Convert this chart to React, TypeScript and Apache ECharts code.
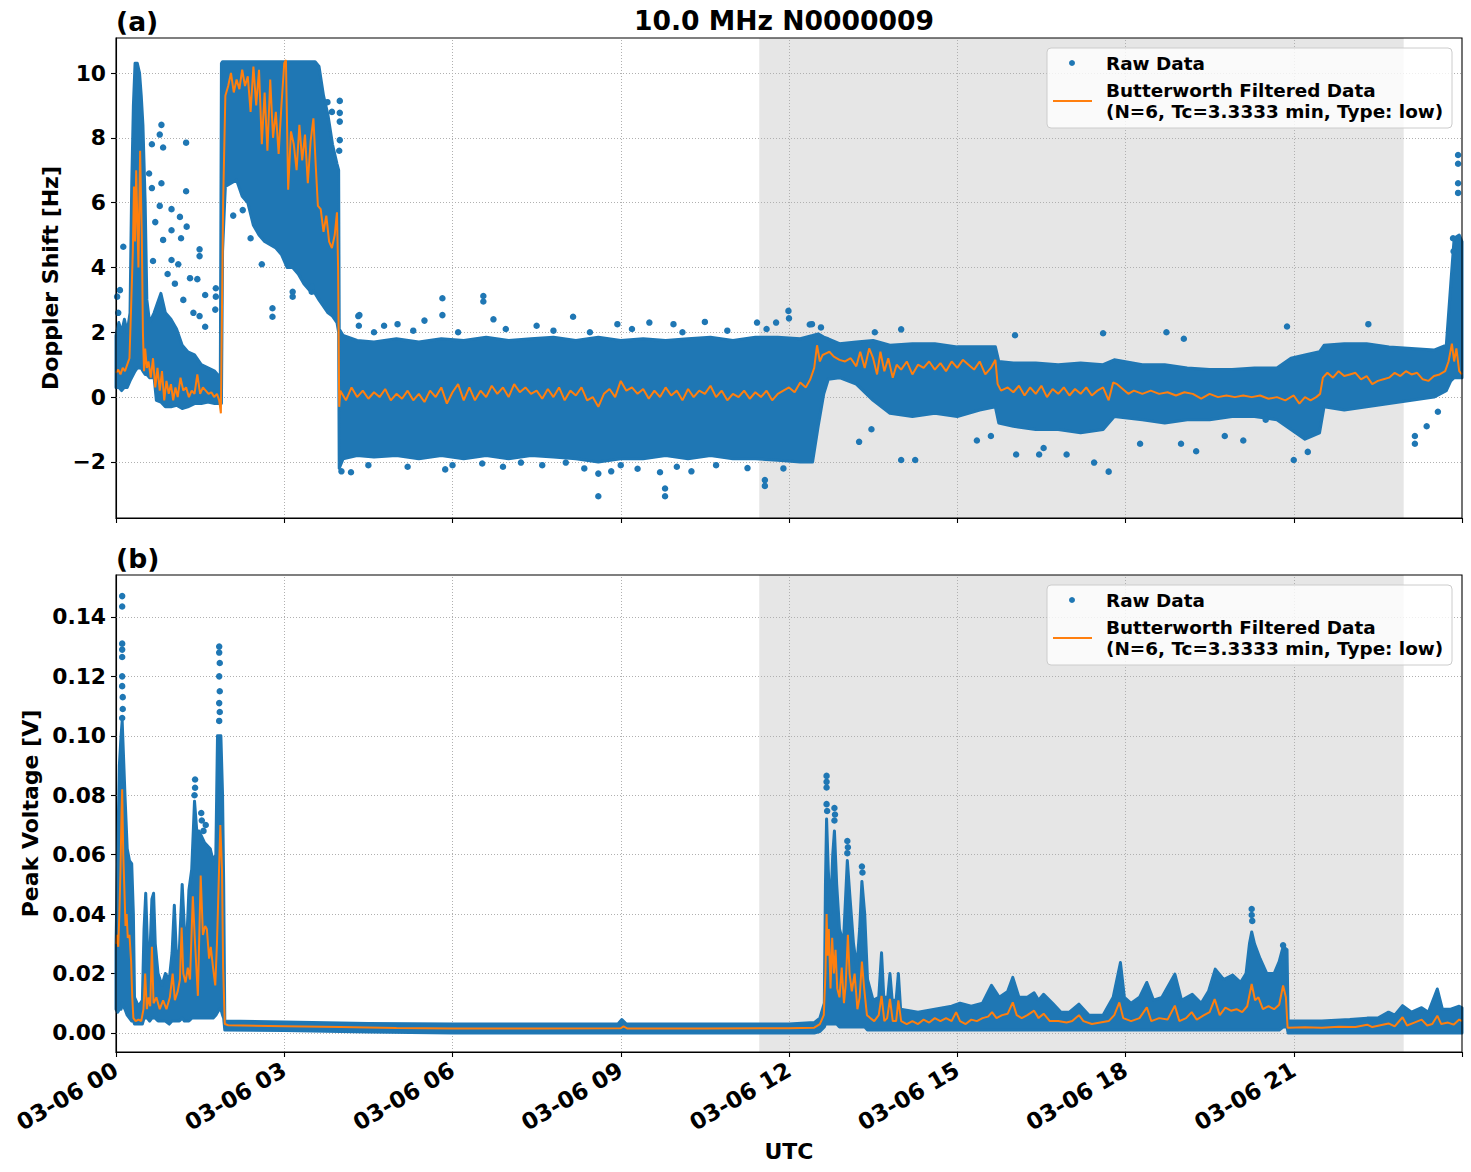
import React, { useEffect, useRef } from "react";
import * as echarts from "echarts";

const BLUE = "#1f77b4";
const ORANGE = "#ff7f0e";
const FONT = "DejaVu Sans";

// x axis: hours of 2025-03-06 (UTC)
const xTicks = [0, 3, 6, 9, 12, 15, 18, 21];
const shadeStart = 11.47;
const shadeEnd = 22.96;

// ---------- panel (a): Doppler shift [Hz] ----------
const dopplerTicks = [-2, 0, 2, 4, 6, 8, 10];
// dense raw-data cloud: [hour, low, high]
const dopplerBand = [
  [0.0, 0.3, 1.9], [0.05, 0.3, 2.3], [0.1, 0.2, 2.0], [0.15, 0.3, 2.4], [0.2, 0.3, 2.0], [0.25, 0.5, 2.6],
  [0.28, 0.6, 6.5], [0.31, 0.7, 9.0], [0.34, 0.8, 10.3], [0.38, 0.9, 10.3], [0.42, 0.9, 10.0], [0.45, 0.9, 9.3],
  [0.48, 0.8, 8.4], [0.52, 0.7, 6.0], [0.55, 0.7, 3.0], [0.6, 0.6, 2.3], [0.68, 0.6, 2.6], [0.72, -0.1, 2.8],
  [0.8, -0.15, 3.2], [0.88, -0.3, 2.6], [0.98, -0.3, 2.4], [1.08, -0.25, 2.1], [1.18, -0.35, 1.6], [1.28, -0.3, 1.4],
  [1.4, -0.2, 1.3], [1.52, -0.2, 1.0], [1.64, -0.15, 0.9], [1.76, -0.2, 0.8], [1.86, -0.2, 0.6], [1.88, -0.2, 10.3],
  [1.9, 4.5, 10.35], [1.95, 6.5, 10.35], [2.05, 6.6, 10.35], [2.15, 6.7, 10.35], [2.25, 6.2, 10.35], [2.35, 6.0, 10.35],
  [2.45, 5.3, 10.35], [2.55, 5.0, 10.35], [2.65, 4.8, 10.35], [2.75, 4.7, 10.35], [2.85, 4.6, 10.35], [2.95, 4.4, 10.35],
  [3.05, 4.0, 10.35], [3.15, 4.0, 10.35], [3.25, 3.8, 10.35], [3.35, 3.5, 10.35], [3.45, 3.3, 10.35], [3.55, 3.2, 10.35],
  [3.62, 3.0, 10.2], [3.7, 2.8, 9.3], [3.78, 2.6, 8.7], [3.86, 2.5, 7.8], [3.94, 2.3, 7.2], [3.97, 2.0, 7.0],
  [3.98, -2.2, 2.1], [4.05, -1.9, 1.9], [4.3, -1.8, 1.75], [4.6, -1.85, 1.7], [5.0, -1.8, 1.8], [5.4, -1.9, 1.7],
  [5.8, -1.8, 1.8], [6.2, -1.9, 1.75], [6.6, -1.8, 1.85], [7.0, -1.9, 1.75], [7.4, -1.8, 1.8], [7.8, -1.85, 1.85],
  [8.2, -1.9, 1.75], [8.6, -2.0, 1.85], [9.0, -1.9, 1.75], [9.4, -1.9, 1.8], [9.8, -1.8, 1.75], [10.2, -1.9, 1.8],
  [10.6, -1.8, 1.85], [11.0, -1.9, 1.75], [11.4, -1.9, 1.85], [11.8, -1.95, 1.85], [12.2, -2.0, 1.8], [12.42, -2.0, 1.9],
  [12.52, -0.9, 1.95], [12.62, 0.1, 1.85], [12.7, 0.55, 1.8], [12.9, 0.6, 1.65], [13.2, 0.4, 1.7], [13.5, -0.1, 1.75],
  [13.8, -0.5, 1.6], [14.2, -0.6, 1.65], [14.6, -0.5, 1.65], [15.0, -0.6, 1.55], [15.4, -0.4, 1.55], [15.68, -0.3, 1.55],
  [15.74, -0.8, 1.1], [16.0, -0.9, 1.05], [16.4, -1.0, 1.05], [16.8, -1.0, 1.0], [17.2, -1.1, 1.05], [17.6, -1.0, 1.0],
  [17.8, -0.6, 1.15], [18.3, -0.7, 1.0], [18.7, -0.8, 1.0], [19.1, -0.7, 0.9], [19.5, -0.7, 0.85], [19.9, -0.6, 0.85],
  [20.3, -0.6, 0.9], [20.7, -0.7, 0.9], [20.95, -1.0, 1.2], [21.2, -1.3, 1.3], [21.46, -1.1, 1.4], [21.54, -0.3, 1.6],
  [21.9, -0.4, 1.65], [22.3, -0.3, 1.65], [22.7, -0.2, 1.55], [23.1, -0.1, 1.5], [23.5, 0.0, 1.45], [23.72, 0.2, 1.6],
  [23.8, 0.5, 3.5], [23.86, 0.6, 4.9], [23.95, 0.6, 5.0], [24.0, 0.6, 4.8],
];
// isolated raw points: [hour, Hz]
const dopplerOutliers = [
  [0.13, 4.64], [0.07, 3.3], [0.04, 2.6], [0.02, 3.1], [0.81, 8.4], [0.78, 8.1], [0.64, 7.8], [1.25, 7.85],
  [0.84, 7.7], [0.59, 6.9], [0.64, 6.45], [1.25, 6.35], [0.81, 6.6], [0.78, 5.9], [0.99, 5.8], [1.14, 5.56],
  [0.99, 5.15], [1.16, 4.9], [1.26, 5.26], [1.49, 4.56], [1.49, 4.35], [0.84, 4.85], [0.99, 4.23], [1.32, 3.67],
  [1.45, 3.64], [1.11, 4.1], [1.59, 3.15], [1.78, 3.1], [1.78, 3.36], [1.77, 2.7], [1.49, 2.5], [1.59, 2.17],
  [0.92, 3.8], [1.05, 3.5], [1.2, 3.0], [1.38, 2.6], [0.7, 5.4], [0.66, 4.2],
  [3.99, 9.14], [3.99, 8.77], [3.99, 8.5], [3.99, 7.93], [3.98, 7.6], [3.77, 9.1], [3.85, 8.8], [2.79, 2.74],
  [2.79, 2.48], [3.15, 3.25], [3.15, 3.1], [3.49, 3.25], [3.49, 3.4], [2.09, 5.6], [2.26, 5.77], [2.4, 4.9], [2.6, 4.1],
  [4.32, 2.5], [4.33, 2.2], [5.82, 3.05], [5.82, 2.53], [6.55, 3.12], [6.55, 2.95], [5.5, 2.36], [4.34, 2.53],
  [8.15, 2.48], [11.99, 2.66], [12.0, 2.43], [8.6, -3.06], [8.6, -2.36], [9.79, -3.06], [9.79, -2.82], [11.57, -2.56],
  [11.57, -2.74], [4.19, -2.32], [4.02, -2.29], [5.87, -2.23], [6.53, -2.05], [8.83, -2.29], [9.3, -2.21], [9.7, -2.32],
  [10.26, -2.29], [11.26, -2.19], [8.02, -2.02], [7.22, -2.02], [9.51, 2.3], [10.5, 2.32], [9.94, 2.25], [6.73, 2.4],
  [4.78, 2.2], [5.02, 2.25], [7.5, 2.2], [8.94, 2.25], [12.37, 2.24],
  [4.6, 2.0], [5.3, 2.05], [6.1, 2.0], [6.95, 2.1], [7.8, 2.05], [8.45, 2.0], [9.2, 2.1], [10.1, 2.0], [10.9, 2.05],
  [11.6, 2.1], [4.5, -2.1], [5.2, -2.15], [6.0, -2.1], [6.9, -2.15], [7.6, -2.1], [8.35, -2.2], [9.0, -2.1],
  [10.0, -2.15], [10.7, -2.1], [11.9, -2.2],
  [14.0, -1.94], [14.25, -1.94], [13.25, -1.38], [13.47, -0.99], [16.05, -1.77], [16.46, -1.77], [16.95, -1.77],
  [17.44, -2.02], [17.7, -2.3], [19.26, -1.67], [20.1, -1.34], [21.0, -1.94], [21.25, -1.69], [23.16, -1.44],
  [23.16, -1.2], [23.37, -0.9], [23.57, -0.45], [20.88, 2.18], [22.33, 2.25], [18.73, 2.0], [19.04, 1.8], [17.6, 1.97],
  [16.03, 1.91], [14.0, 2.09], [13.53, 2.0], [12.57, 2.15], [12.41, 2.25], [11.43, 2.3], [11.77, 2.3], [15.35, -1.34],
  [15.6, -1.2], [16.54, -1.57], [18.26, -1.44], [18.99, -1.44], [19.77, -1.2], [20.5, -0.7],
  [23.93, 7.47], [23.93, 7.2], [23.93, 6.6], [23.93, 6.3], [23.84, 4.9], [23.85, 4.5],
];
// Butterworth filtered Doppler shift: [hour, Hz]
const dopplerFiltered = [
  [0.0, 0.75], [0.04, 0.85], [0.08, 0.7], [0.12, 0.9], [0.16, 0.8], [0.2, 1.0], [0.24, 1.2], [0.27, 2.8], [0.3, 4.5],
  [0.32, 6.5], [0.34, 4.8], [0.36, 7.0], [0.38, 5.5], [0.4, 4.0], [0.43, 7.6], [0.46, 5.0], [0.48, 2.0], [0.5, 0.8],
  [0.52, 1.5], [0.55, 0.9], [0.58, 1.1], [0.62, 0.6], [0.66, 1.2], [0.7, 0.3], [0.74, 0.9], [0.78, 0.2], [0.82, 0.8],
  [0.86, -0.1], [0.9, 0.5], [0.94, 0.1], [0.98, 0.4], [1.02, -0.1], [1.06, 0.3], [1.1, 0.0], [1.15, 0.6], [1.2, 0.2],
  [1.25, 0.3], [1.3, 0.0], [1.35, 0.2], [1.4, 0.1], [1.45, 0.7], [1.5, 0.1], [1.55, 0.3], [1.6, 0.2], [1.65, 0.1],
  [1.7, 0.15], [1.75, 0.0], [1.8, 0.1], [1.84, -0.1], [1.87, -0.5], [1.91, 6.0], [1.95, 9.3], [2.0, 9.6], [2.05, 10.0],
  [2.1, 9.4], [2.15, 9.8], [2.2, 9.5], [2.25, 10.1], [2.3, 9.6], [2.35, 9.9], [2.4, 8.8], [2.45, 10.2], [2.5, 9.0],
  [2.55, 10.1], [2.6, 7.8], [2.65, 9.4], [2.7, 7.6], [2.75, 9.8], [2.8, 8.0], [2.85, 8.8], [2.9, 7.5], [2.95, 9.0],
  [3.0, 10.3], [3.03, 10.4], [3.07, 6.4], [3.12, 8.2], [3.17, 7.8], [3.22, 7.0], [3.27, 8.4], [3.32, 7.3], [3.37, 8.1],
  [3.42, 6.6], [3.47, 7.9], [3.52, 8.6], [3.56, 7.2], [3.6, 5.9], [3.65, 5.8], [3.7, 5.1], [3.75, 5.6], [3.8, 4.8],
  [3.85, 4.6], [3.9, 5.0], [3.94, 5.7], [3.96, 4.0], [3.98, -0.3], [4.0, 0.2], [4.1, -0.1], [4.2, 0.3], [4.3, 0.0],
  [4.4, 0.2], [4.5, -0.05], [4.6, 0.15], [4.7, 0.0], [4.8, 0.25], [4.9, -0.1], [5.0, 0.1], [5.1, -0.05], [5.2, 0.2],
  [5.3, -0.1], [5.4, 0.1], [5.5, -0.15], [5.6, 0.2], [5.7, 0.0], [5.8, 0.3], [5.9, -0.2], [6.0, 0.15], [6.1, 0.4],
  [6.2, -0.1], [6.3, 0.3], [6.4, -0.1], [6.5, 0.2], [6.6, 0.0], [6.7, 0.35], [6.8, 0.1], [6.9, 0.3], [7.0, 0.0],
  [7.1, 0.4], [7.2, 0.15], [7.3, 0.3], [7.4, 0.1], [7.5, 0.2], [7.6, -0.05], [7.7, 0.25], [7.8, 0.0], [7.9, 0.3],
  [8.0, -0.1], [8.1, 0.2], [8.2, 0.05], [8.3, 0.3], [8.4, -0.1], [8.5, 0.0], [8.6, -0.3], [8.7, 0.1], [8.8, 0.25],
  [8.9, 0.0], [9.0, 0.5], [9.1, 0.2], [9.2, 0.3], [9.3, 0.1], [9.4, 0.25], [9.5, -0.05], [9.6, 0.2], [9.7, 0.0],
  [9.8, 0.3], [9.9, 0.05], [10.0, 0.2], [10.1, -0.1], [10.2, 0.25], [10.3, 0.0], [10.4, 0.2], [10.5, 0.1], [10.6, 0.35],
  [10.7, 0.0], [10.8, 0.2], [10.9, -0.1], [11.0, 0.1], [11.1, 0.0], [11.2, 0.2], [11.3, -0.05], [11.4, 0.15], [11.5, 0.0],
  [11.6, 0.2], [11.7, -0.1], [11.8, 0.1], [11.9, 0.2], [12.0, 0.3], [12.1, 0.15], [12.2, 0.45], [12.3, 0.3], [12.38, 0.55],
  [12.45, 0.9], [12.5, 1.6], [12.55, 1.1], [12.6, 1.3], [12.66, 1.35], [12.72, 1.4], [12.8, 1.25], [12.9, 1.15],
  [13.0, 1.1], [13.1, 1.2], [13.2, 0.95], [13.27, 1.4], [13.35, 0.9], [13.43, 1.5], [13.5, 1.2], [13.57, 0.7],
  [13.63, 1.4], [13.7, 0.8], [13.77, 1.2], [13.85, 0.6], [13.92, 1.0], [14.0, 0.85], [14.1, 1.1], [14.2, 0.7],
  [14.3, 1.0], [14.4, 0.9], [14.5, 1.1], [14.6, 0.85], [14.7, 1.05], [14.8, 0.8], [14.9, 1.1], [15.0, 0.9], [15.1, 1.15],
  [15.2, 1.0], [15.3, 0.85], [15.4, 1.1], [15.5, 0.7], [15.6, 0.9], [15.68, 1.15], [15.72, 0.4], [15.78, 0.2],
  [15.9, 0.3], [16.0, 0.15], [16.1, 0.35], [16.2, 0.05], [16.3, 0.3], [16.4, 0.1], [16.5, 0.35], [16.6, 0.0],
  [16.7, 0.25], [16.8, 0.1], [16.9, 0.3], [17.0, 0.05], [17.1, 0.25], [17.2, 0.1], [17.3, 0.3], [17.4, 0.05],
  [17.5, 0.2], [17.6, 0.3], [17.7, -0.1], [17.78, 0.45], [17.85, 0.4], [17.95, 0.25], [18.05, 0.1], [18.15, 0.2],
  [18.3, 0.1], [18.45, 0.2], [18.6, 0.1], [18.75, 0.15], [18.9, 0.05], [19.05, 0.15], [19.2, 0.1], [19.35, -0.05],
  [19.5, 0.1], [19.65, 0.0], [19.8, 0.05], [19.95, 0.0], [20.1, 0.05], [20.25, 0.0], [20.4, 0.05], [20.55, -0.05],
  [20.7, 0.0], [20.85, -0.1], [21.0, 0.05], [21.1, -0.2], [21.2, 0.0], [21.3, -0.1], [21.4, 0.0], [21.47, 0.1],
  [21.52, 0.6], [21.6, 0.75], [21.7, 0.6], [21.8, 0.8], [21.9, 0.65], [22.0, 0.7], [22.1, 0.75], [22.2, 0.55],
  [22.3, 0.65], [22.4, 0.4], [22.5, 0.5], [22.6, 0.55], [22.7, 0.6], [22.8, 0.75], [22.9, 0.65], [23.0, 0.8],
  [23.1, 0.7], [23.2, 0.75], [23.3, 0.55], [23.4, 0.5], [23.5, 0.65], [23.6, 0.7], [23.7, 0.8], [23.76, 1.1],
  [23.82, 1.65], [23.86, 1.1], [23.9, 1.5], [23.95, 0.8], [24.0, 0.7],
];

// ---------- panel (b): peak voltage [V] ----------
const voltTicks = [0, 0.02, 0.04, 0.06, 0.08, 0.1, 0.12, 0.14];
const voltBand = [
  [0.0, 0.008, 0.03], [0.03, 0.007, 0.06], [0.06, 0.008, 0.09], [0.09, 0.008, 0.1], [0.11, 0.01, 0.105],
  [0.13, 0.009, 0.095], [0.16, 0.008, 0.08], [0.2, 0.006, 0.062], [0.24, 0.005, 0.058], [0.28, 0.004, 0.057],
  [0.31, 0.004, 0.04], [0.33, 0.003, 0.012], [0.4, 0.003, 0.009], [0.47, 0.003, 0.011], [0.5, 0.005, 0.035],
  [0.53, 0.005, 0.047], [0.56, 0.005, 0.03], [0.6, 0.004, 0.024], [0.64, 0.005, 0.045], [0.67, 0.005, 0.047],
  [0.7, 0.005, 0.03], [0.75, 0.004, 0.02], [0.82, 0.004, 0.016], [0.88, 0.004, 0.02], [0.95, 0.003, 0.018],
  [1.0, 0.004, 0.027], [1.04, 0.004, 0.043], [1.08, 0.004, 0.025], [1.13, 0.004, 0.028], [1.18, 0.005, 0.05],
  [1.22, 0.004, 0.035], [1.26, 0.004, 0.03], [1.3, 0.004, 0.048], [1.35, 0.005, 0.055], [1.4, 0.005, 0.078],
  [1.44, 0.005, 0.068], [1.48, 0.005, 0.068], [1.53, 0.005, 0.066], [1.58, 0.005, 0.064], [1.63, 0.005, 0.063],
  [1.68, 0.005, 0.062], [1.73, 0.005, 0.058], [1.78, 0.006, 0.06], [1.81, 0.007, 0.1], [1.84, 0.008, 0.1],
  [1.87, 0.008, 0.1], [1.9, 0.006, 0.08], [1.92, 0.005, 0.05], [1.94, 0.001, 0.004], [3.0, 0.0008, 0.0037],
  [4.5, 0.0003, 0.0032], [6.0, 0.0, 0.003], [8.95, 0.0, 0.003], [9.02, 0.0, 0.0045], [9.1, 0.0, 0.003],
  [12.0, 0.0, 0.003], [12.45, 0.0, 0.0035], [12.55, 0.0005, 0.005], [12.63, 0.002, 0.01], [12.65, 0.003, 0.05],
  [12.67, 0.003, 0.072], [12.7, 0.003, 0.055], [12.74, 0.003, 0.04], [12.78, 0.003, 0.06], [12.81, 0.003, 0.068],
  [12.85, 0.003, 0.05], [12.9, 0.002, 0.035], [12.97, 0.002, 0.03], [13.04, 0.002, 0.058], [13.09, 0.002, 0.045],
  [13.15, 0.002, 0.03], [13.21, 0.002, 0.022], [13.26, 0.002, 0.035], [13.3, 0.002, 0.051], [13.35, 0.002, 0.04],
  [13.4, 0.001, 0.018], [13.5, 0.001, 0.011], [13.6, 0.001, 0.012], [13.65, 0.001, 0.027], [13.69, 0.001, 0.012],
  [13.76, 0.001, 0.012], [13.8, 0.001, 0.02], [13.84, 0.001, 0.011], [13.91, 0.001, 0.011], [13.95, 0.001, 0.02],
  [13.99, 0.001, 0.008], [14.3, 0.001, 0.007], [14.6, 0.001, 0.008], [14.9, 0.001, 0.009], [15.05, 0.001, 0.01],
  [15.25, 0.001, 0.009], [15.45, 0.001, 0.01], [15.61, 0.001, 0.016], [15.75, 0.001, 0.012], [15.9, 0.001, 0.014],
  [15.99, 0.001, 0.0187], [16.1, 0.001, 0.012], [16.25, 0.001, 0.012], [16.37, 0.001, 0.0135], [16.45, 0.001, 0.011],
  [16.54, 0.001, 0.013], [16.7, 0.001, 0.01], [16.85, 0.001, 0.007], [17.0, 0.001, 0.007], [17.17, 0.001, 0.0097],
  [17.35, 0.001, 0.006], [17.6, 0.001, 0.006], [17.78, 0.001, 0.012], [17.91, 0.001, 0.0237], [17.98, 0.001, 0.012],
  [18.1, 0.001, 0.01], [18.25, 0.001, 0.012], [18.38, 0.001, 0.017], [18.5, 0.001, 0.011], [18.65, 0.001, 0.012],
  [18.88, 0.001, 0.0198], [19.0, 0.001, 0.011], [19.19, 0.001, 0.013], [19.35, 0.001, 0.01], [19.48, 0.001, 0.014],
  [19.6, 0.001, 0.0215], [19.75, 0.001, 0.018], [19.91, 0.001, 0.0195], [20.05, 0.001, 0.017], [20.15, 0.001, 0.02],
  [20.21, 0.001, 0.03], [20.25, 0.001, 0.034], [20.3, 0.001, 0.03], [20.4, 0.001, 0.025], [20.52, 0.001, 0.02],
  [20.65, 0.001, 0.02], [20.74, 0.001, 0.024], [20.81, 0.002, 0.029], [20.88, 0.002, 0.028], [20.9, 0.0, 0.004],
  [21.5, 0.0, 0.004], [22.0, 0.0, 0.0045], [22.31, 0.0, 0.005], [22.5, 0.0, 0.005], [22.69, 0.0, 0.007],
  [22.8, 0.0, 0.006], [22.94, 0.0, 0.0092], [23.1, 0.0, 0.007], [23.28, 0.0, 0.0085], [23.4, 0.0, 0.007],
  [23.56, 0.0, 0.0148], [23.65, 0.0, 0.008], [23.8, 0.0, 0.008], [23.95, 0.0, 0.009], [24.0, 0.0, 0.0085],
];
const voltOutliers = [
  [0.11, 0.147], [0.11, 0.1435], [0.11, 0.131], [0.11, 0.129], [0.11, 0.1265], [0.11, 0.12], [0.11, 0.1167],
  [0.12, 0.113], [0.12, 0.109], [0.11, 0.106], [1.41, 0.0853], [1.41, 0.0825], [1.4, 0.08], [1.52, 0.074],
  [1.53, 0.0715], [1.6, 0.07], [1.56, 0.068], [1.84, 0.13], [1.84, 0.128], [1.85, 0.1245], [1.84, 0.12],
  [1.85, 0.115], [1.84, 0.111], [1.85, 0.108], [1.84, 0.105], [12.67, 0.0865], [12.67, 0.0845], [12.67, 0.0826],
  [12.67, 0.077], [12.68, 0.0747], [12.81, 0.0757], [12.82, 0.0735], [12.81, 0.0715], [13.04, 0.0646],
  [13.05, 0.0625], [13.04, 0.0605], [13.3, 0.056], [13.31, 0.054], [20.25, 0.0417], [20.25, 0.0397],
  [20.26, 0.0377], [20.81, 0.0295],
];
const voltFiltered = [
  [0.0, 0.03], [0.02, 0.033], [0.04, 0.029], [0.06, 0.04], [0.08, 0.055], [0.1, 0.075], [0.11, 0.082], [0.13, 0.06],
  [0.15, 0.048], [0.17, 0.036], [0.19, 0.04], [0.21, 0.032], [0.24, 0.033], [0.27, 0.024], [0.29, 0.012], [0.31, 0.005],
  [0.35, 0.004], [0.4, 0.0045], [0.45, 0.004], [0.49, 0.008], [0.52, 0.02], [0.55, 0.008], [0.58, 0.012], [0.61, 0.009],
  [0.64, 0.029], [0.67, 0.01], [0.72, 0.012], [0.78, 0.008], [0.84, 0.011], [0.9, 0.008], [0.96, 0.012], [1.01, 0.02],
  [1.05, 0.011], [1.1, 0.014], [1.14, 0.018], [1.17, 0.0355], [1.2, 0.02], [1.24, 0.017], [1.28, 0.022], [1.32, 0.018],
  [1.37, 0.046], [1.41, 0.03], [1.46, 0.0125], [1.51, 0.053], [1.55, 0.033], [1.59, 0.036], [1.62, 0.035], [1.66, 0.025],
  [1.69, 0.029], [1.73, 0.022], [1.77, 0.016], [1.8, 0.03], [1.83, 0.05], [1.86, 0.07], [1.89, 0.055], [1.91, 0.022],
  [1.94, 0.003], [2.0, 0.0026], [3.0, 0.0023], [4.0, 0.002], [5.0, 0.0017], [6.0, 0.0015], [7.5, 0.0015], [9.0, 0.0016],
  [9.05, 0.0022], [9.12, 0.0015], [10.5, 0.0015], [12.0, 0.0016], [12.45, 0.0018], [12.55, 0.003], [12.62, 0.006],
  [12.65, 0.02], [12.67, 0.04], [12.69, 0.026], [12.71, 0.035], [12.74, 0.015], [12.77, 0.032], [12.8, 0.02],
  [12.83, 0.028], [12.86, 0.015], [12.9, 0.012], [12.94, 0.022], [12.98, 0.01], [13.01, 0.016], [13.05, 0.033],
  [13.08, 0.02], [13.12, 0.014], [13.17, 0.02], [13.22, 0.008], [13.26, 0.012], [13.3, 0.024], [13.34, 0.015],
  [13.39, 0.006], [13.45, 0.005], [13.52, 0.004], [13.6, 0.006], [13.65, 0.0125], [13.7, 0.004], [13.75, 0.005],
  [13.8, 0.0115], [13.85, 0.004], [13.91, 0.004], [13.95, 0.011], [14.0, 0.004], [14.1, 0.003], [14.2, 0.004],
  [14.3, 0.003], [14.4, 0.0045], [14.5, 0.0035], [14.6, 0.005], [14.7, 0.004], [14.8, 0.005], [14.9, 0.004],
  [14.98, 0.007], [15.05, 0.004], [15.15, 0.003], [15.25, 0.0045], [15.35, 0.004], [15.45, 0.005], [15.55, 0.0055],
  [15.62, 0.007], [15.7, 0.005], [15.8, 0.006], [15.9, 0.0065], [15.99, 0.0103], [16.06, 0.006], [16.15, 0.005],
  [16.25, 0.006], [16.37, 0.0075], [16.45, 0.005], [16.54, 0.0065], [16.65, 0.004], [16.8, 0.004], [16.95, 0.0035],
  [17.05, 0.004], [17.17, 0.006], [17.25, 0.004], [17.4, 0.003], [17.55, 0.0035], [17.7, 0.004], [17.8, 0.006],
  [17.89, 0.0103], [17.96, 0.005], [18.1, 0.004], [18.25, 0.005], [18.38, 0.0086], [18.46, 0.004], [18.6, 0.005],
  [18.75, 0.0045], [18.88, 0.0092], [18.96, 0.004], [19.08, 0.005], [19.18, 0.007], [19.27, 0.0045], [19.4, 0.006],
  [19.5, 0.007], [19.59, 0.0114], [19.68, 0.006], [19.78, 0.0085], [19.88, 0.0075], [19.98, 0.008], [20.08, 0.007],
  [20.17, 0.009], [20.25, 0.0165], [20.31, 0.011], [20.37, 0.012], [20.45, 0.008], [20.55, 0.009], [20.65, 0.008],
  [20.74, 0.0095], [20.81, 0.016], [20.86, 0.012], [20.89, 0.0018], [21.2, 0.0019], [21.5, 0.0018], [21.8, 0.0021],
  [22.1, 0.002], [22.31, 0.0028], [22.4, 0.002], [22.69, 0.0032], [22.8, 0.0022], [22.94, 0.0053], [23.02, 0.0025],
  [23.15, 0.0035], [23.28, 0.0045], [23.38, 0.0025], [23.47, 0.003], [23.56, 0.0058], [23.63, 0.003], [23.75, 0.0035],
  [23.85, 0.0028], [23.95, 0.0045], [24.0, 0.004],
];

const TICK_FS = 21.8;
const XTICK_FS = 22.8;
const NAME_FS = 22;
const TITLE_FS = 26.6;
const LEGEND_FS = 18.4;

const textStyle = { fontFamily: FONT, fontWeight: "bold" as const, color: "#000" };

function hourLabel(v: number) {
  if (v >= 24) return "";
  return "03-06 " + String(v).padStart(2, "0");
}

function bandSeries(idx: number, band: number[][]) {
  return {
    type: "custom",
    xAxisIndex: idx,
    yAxisIndex: idx,
    z: 3,
    silent: true,
    data: [[band[0][0], band[0][1]]],
    renderItem: (_params: any, api: any) => {
      const upper = band.map((r) => api.coord([r[0], r[2]]));
      const lower = band.map((r) => api.coord([r[0], r[1]])).reverse();
      return {
        type: "polygon",
        shape: { points: upper.concat(lower) },
        style: { fill: BLUE, stroke: BLUE, lineWidth: 3, lineJoin: "round" },
      };
    },
  };
}

function helperSeries(idx: number, yTicks: number[], yMin: number) {
  return {
    type: "line",
    xAxisIndex: idx,
    yAxisIndex: idx,
    data: [[0, yMin]],
    showSymbol: false,
    symbol: "none",
    lineStyle: { opacity: 0 },
    silent: true,
    z: 1,
    markArea: {
      silent: true,
      z: 1,
      itemStyle: { color: "rgba(128,128,128,0.2)" },
      data: [[{ xAxis: shadeStart }, { xAxis: shadeEnd }]],
    },
    markLine: {
      silent: true,
      z: 2,
      symbol: ["none", "none"],
      label: { show: false },
      lineStyle: { color: "#b0b0b0", type: [1, 2], width: 1 },
      data: [
        ...xTicks.slice(1).map((x) => ({ xAxis: x })),
        ...yTicks.map((y) => ({ yAxis: y })),
      ],
    },
  };
}

function legendGraphics(top: number) {
  const x = 1047;
  const font = `bold ${LEGEND_FS}px "${FONT}"`;
  return [
    {
      type: "rect",
      z: 100,
      shape: { x, y: top, width: 405, height: 80, r: 4 },
      style: { fill: "rgba(255,255,255,0.8)", stroke: "#cccccc", lineWidth: 1 },
    },
    { type: "circle", z: 101, shape: { cx: 1072, cy: top + 15, r: 3 }, style: { fill: BLUE } },
    {
      type: "text", z: 101, x: 1106, y: top + 15,
      style: { text: "Raw Data", font, fill: "#000", textVerticalAlign: "middle" },
    },
    { type: "line", z: 101, shape: { x1: 1053, y1: top + 53, x2: 1092, y2: top + 53 }, style: { stroke: ORANGE, lineWidth: 2 } },
    {
      type: "text", z: 101, x: 1106, y: top + 42,
      style: { text: "Butterworth Filtered Data", font, fill: "#000", textVerticalAlign: "middle" },
    },
    {
      type: "text", z: 101, x: 1106, y: top + 63,
      style: { text: "(N=6, Tc=3.3333 min, Type: low)", font, fill: "#000", textVerticalAlign: "middle" },
    },
  ];
}

function buildOption() {
  const axisLine = { show: true, onZero: false, lineStyle: { color: "#000", width: 1.1 } };
  const axisTick = { show: true, inside: false, length: 5, lineStyle: { color: "#000", width: 1.1 } };
  return {
    animation: false,
    backgroundColor: "#ffffff",
    grid: [
      { left: 116, top: 38, width: 1346, height: 480, show: true, borderColor: "#000", borderWidth: 1.1, z: 10, backgroundColor: "transparent" },
      { left: 116, top: 575, width: 1346, height: 477, show: true, borderColor: "#000", borderWidth: 1.1, z: 10, backgroundColor: "transparent" },
    ],
    xAxis: [
      {
        gridIndex: 0, type: "value", min: 0, max: 24, interval: 3,
        axisLine, axisTick, axisLabel: { show: false }, splitLine: { show: false },
      },
      {
        gridIndex: 1, type: "value", min: 0, max: 24, interval: 3,
        axisLine, axisTick, splitLine: { show: false },
        axisLabel: { ...textStyle, fontSize: XTICK_FS, rotate: 30, margin: 16, formatter: hourLabel },
        name: "UTC", nameLocation: "middle", nameGap: 88,
        nameTextStyle: { ...textStyle, fontSize: NAME_FS },
      },
    ],
    yAxis: [
      {
        gridIndex: 0, type: "value", min: -3.73, max: 11.08,
        axisLine, axisTick: { ...axisTick, customValues: dopplerTicks },
        splitLine: { show: false },
        axisLabel: {
          ...textStyle, fontSize: TICK_FS, margin: 10, customValues: dopplerTicks,
          formatter: (v: number) => (v < 0 ? "\u2212" + Math.abs(v) : String(v)),
        },
        name: "Doppler Shift [Hz]", nameLocation: "middle", nameGap: 47,
        nameTextStyle: { ...textStyle, fontSize: NAME_FS },
      },
      {
        gridIndex: 1, type: "value", min: -0.0064, max: 0.1541,
        axisLine, axisTick: { ...axisTick, customValues: voltTicks },
        splitLine: { show: false },
        axisLabel: {
          ...textStyle, fontSize: TICK_FS, margin: 10, customValues: voltTicks,
          formatter: (v: number) => v.toFixed(2),
        },
        name: "Peak Voltage [V]", nameLocation: "middle", nameGap: 68,
        nameTextStyle: { ...textStyle, fontSize: NAME_FS },
      },
    ],
    graphic: [
      {
        type: "text", x: 784, y: 20, z: 100,
        style: { text: "10.0 MHz N0000009", font: `bold ${TITLE_FS}px "${FONT}"`, fill: "#000", textAlign: "center", textVerticalAlign: "middle" },
      },
      {
        type: "text", x: 116, y: 21, z: 100,
        style: { text: "(a)", font: `bold ${TITLE_FS}px "${FONT}"`, fill: "#000", textVerticalAlign: "middle" },
      },
      {
        type: "text", x: 116, y: 558, z: 100,
        style: { text: "(b)", font: `bold ${TITLE_FS}px "${FONT}"`, fill: "#000", textVerticalAlign: "middle" },
      },
      ...legendGraphics(48),
      ...legendGraphics(585),
    ],
    series: [
      helperSeries(0, dopplerTicks, -3.73),
      bandSeries(0, dopplerBand),
      {
        type: "scatter", xAxisIndex: 0, yAxisIndex: 0, z: 3, silent: true,
        symbolSize: 6.5, itemStyle: { color: BLUE, opacity: 1 }, data: dopplerOutliers,
      },
      {
        type: "line", xAxisIndex: 0, yAxisIndex: 0, z: 4, silent: true,
        showSymbol: false, symbol: "none", lineStyle: { color: ORANGE, width: 2 }, data: dopplerFiltered,
      },
      helperSeries(1, voltTicks, -0.0064),
      bandSeries(1, voltBand),
      {
        type: "scatter", xAxisIndex: 1, yAxisIndex: 1, z: 3, silent: true,
        symbolSize: 6.5, itemStyle: { color: BLUE, opacity: 1 }, data: voltOutliers,
      },
      {
        type: "line", xAxisIndex: 1, yAxisIndex: 1, z: 4, silent: true,
        showSymbol: false, symbol: "none", lineStyle: { color: ORANGE, width: 2 }, data: voltFiltered,
      },
    ],
  };
}

export default function App() {
  const ref = useRef<HTMLDivElement>(null);
  useEffect(() => {
    if (!ref.current) return;
    const chart = echarts.init(ref.current, undefined, { renderer: "svg" });
    chart.setOption(buildOption() as any);
    return () => chart.dispose();
  }, []);
  return (
    <div
      ref={ref}
      style={{ position: "fixed", left: 0, top: 0, width: 1471, height: 1172, background: "#fff" }}
    />
  );
}
